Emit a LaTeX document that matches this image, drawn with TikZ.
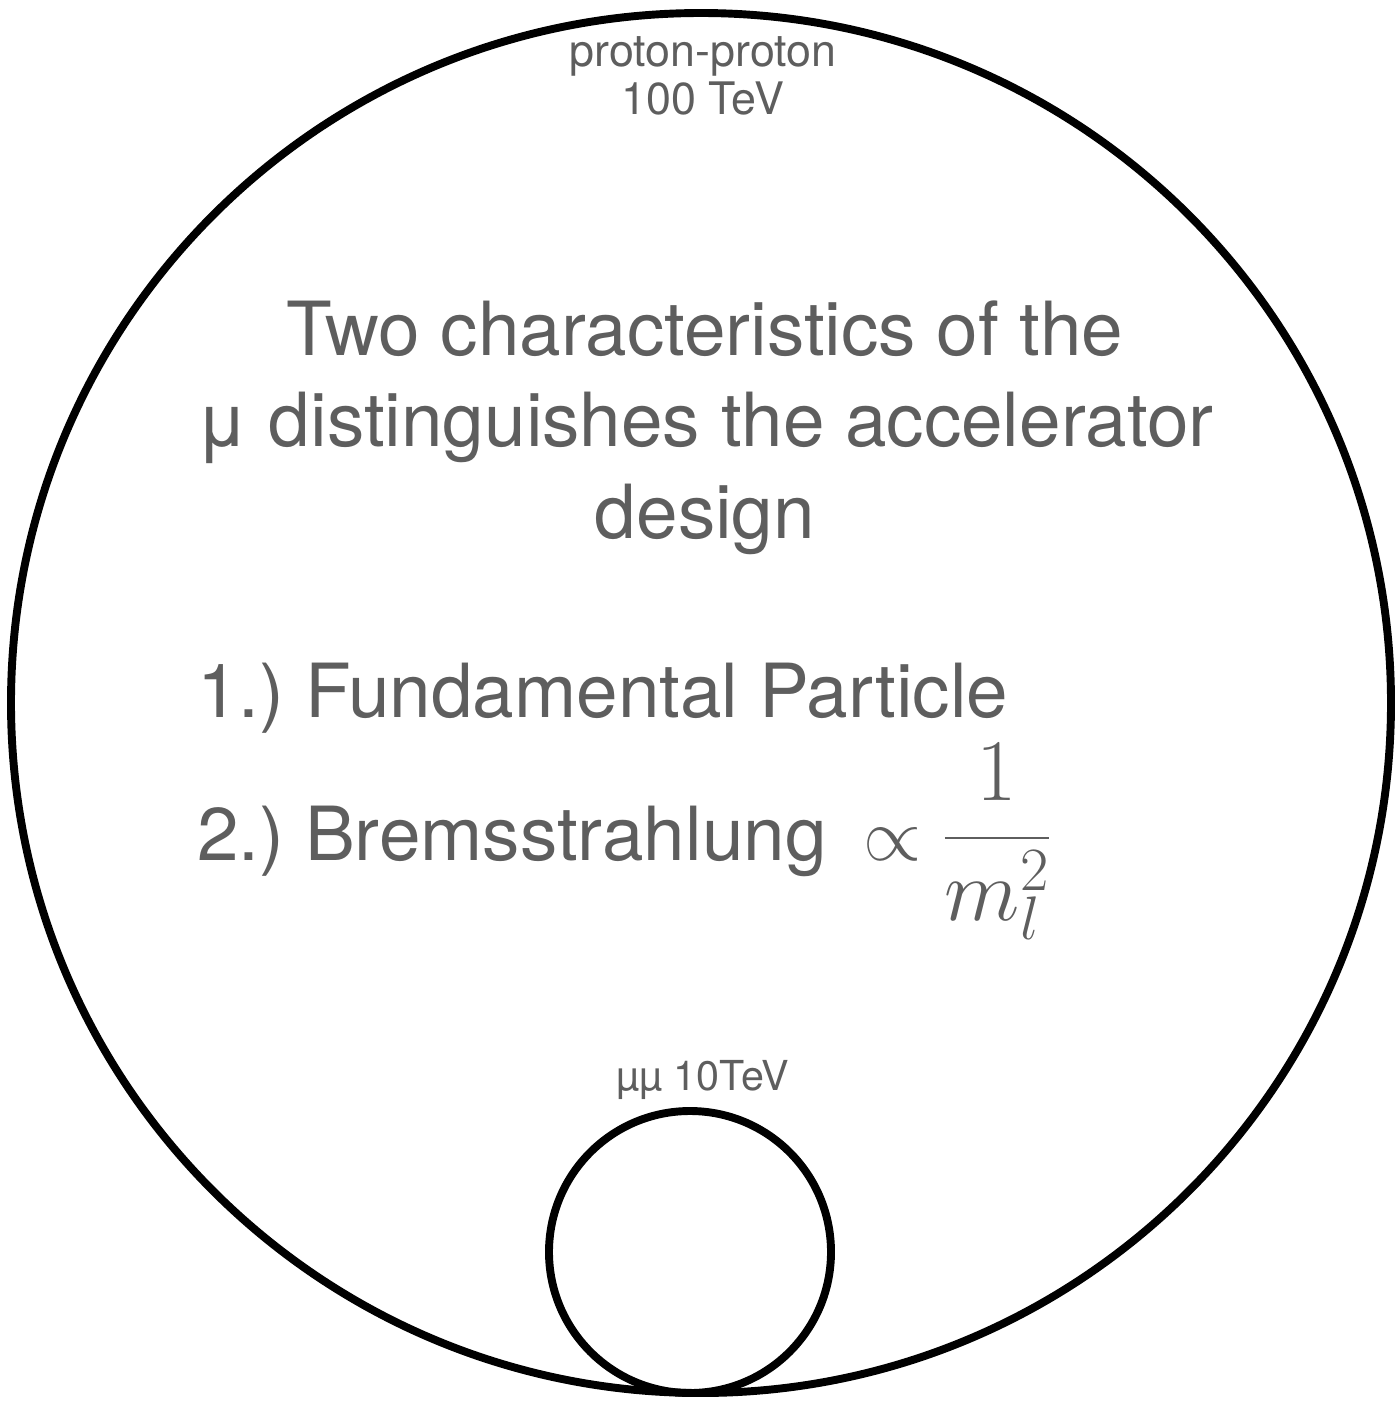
\RequirePackage{fix-cm}
\documentclass[tikz,border=0pt]{standalone}
\usepackage{amsmath}
\usepackage{fontspec}
\setmainfont{TeX Gyre Heros}
\usetikzlibrary{positioning}
\definecolor{txGray}{HTML}{5E5E5E}
\frenchspacing

\begin{document}
\begin{tikzpicture}[
          ring/.style={draw=black,circle,inner sep=0,line width=4.5pt},
          small/.style={text=txGray,font=\fontsize{25.5}{27.5}\selectfont,align=center},
          big/.style={text=txGray,font=\fontsize{42.5}{52}\selectfont,align=center}]
        \useasboundingbox (0,0) rectangle (27.9,-28.08);
        % rings
        \node[ring,minimum size=27.6cm] (pp) at (14.02,-14.06) {};
        \node[ring,minimum size=5.64cm] (mm) at (13.8,-25.04) {};

        \node[small] (pplab) at (14.06,-1.52) {proton-proton\\100 TeV};
        \node[small,font=\fontsize{23.5}{27}\selectfont] (mmlab) at (14.06,-21.6) {µµ 10TeV};

        \node[big] (title) at (14.1,-8.55) {Two characteristics of the\\μ distinguishes the accelerator\\design};
        \node[big,anchor=base west] (item1) at (3.82,-14.34) {1.) Fundamental Particle};
        \node[big,anchor=base west] (item2) at (3.82,-17.2)
          {2.) Bremsstrahlung\enspace $\propto$ {\fontsize{50}{60}\selectfont$\dfrac{1}{m_l^2}$}};
      \end{tikzpicture}
\end{document}
